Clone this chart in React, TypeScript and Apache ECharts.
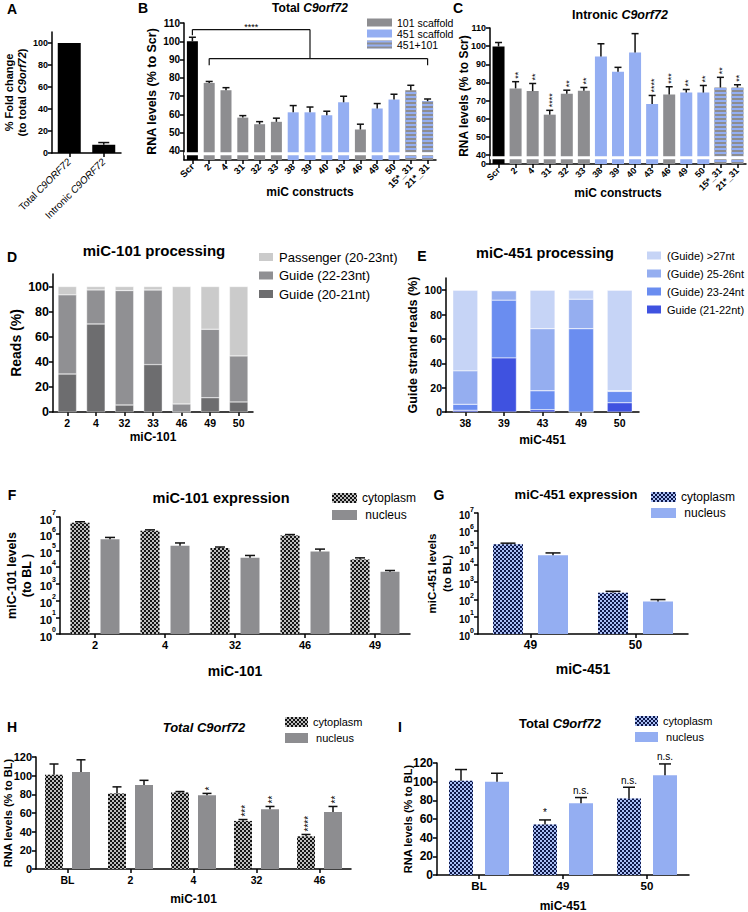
import React, { useEffect, useRef } from 'react';
import * as echarts from 'echarts';

const FONT = '"Liberation Sans", Arial, Helvetica, sans-serif';

// ---------- Panel A ----------
const aCategories = ['Total C9ORF72', 'Intronic C9ORF72'];
const aValues = [100, 7.5];
const aErrTop = [100, 9.5];
const aTicks = [0, 20, 40, 60, 80, 100];

// ---------- Panels B & C ----------
const constructs = ['Scr', '2', '4', '31', '32', '33', '38', '39', '40', '43', '46', '49', '50', '15*_31', '21*_31'];
const scaffold = ['Scr', '101', '101', '101', '101', '101', '451', '451', '451', '451', '101', '451', '451', '451+101', '451+101'];
const totalValues = [100, 77.2, 73.2, 58.2, 54.6, 55.9, 61.1, 61.1, 59.5, 66.6, 51.7, 63.2, 68.1, 73.2, 67.2];
const totalErrTop = [102.2, 78, 74.6, 59.3, 56, 57.9, 64.8, 64, 61.7, 69.9, 54.6, 65.9, 71, 75.9, 68.4];
const intronicValues = [99.8, 76.7, 75.2, 62.2, 73.7, 75.4, 94.3, 85.9, 96.5, 68.1, 73.3, 74.4, 74.4, 77.2, 77.2];
const intronicErrTop = [102, 80.4, 79.4, 64.6, 75.7, 77.2, 101.3, 88.3, 106.9, 72.8, 77.6, 76.1, 78.3, 82.8, 78.7];
const intronicStars = ['', '**', '**', '****', '**', '**', '', '', '', '****', '***', '**', '**', '**', '**'];
const rnaTicks = [35, 40, 50, 60, 70, 80, 90, 100, 110]; // 35 sits below the axis break and reads "0"
const totalBracket = { ref: 0, join: 7, from: 1, to: 14, refTick: 103.3, top: 106.4, lower: 90.5, lowerTick: 86.9, label: '****' };

// ---------- Panel D ----------
const dCategories = ['2', '4', '32', '33', '46', '49', '50'];
const dGuide2021 = [30.3, 70.2, 5.6, 37.8, 0, 11.4, 8];
const dGuide2223 = [63.1, 27.1, 91.2, 59.5, 6.4, 54.6, 36.7];
const dPassenger = [6.6, 2.7, 3.2, 2.7, 93.6, 34, 55.3];
const pctTicks = [0, 20, 40, 60, 80, 100];

// ---------- Panel E ----------
const eCategories = ['38', '39', '43', '49', '50'];
const eGuide2122 = [1.4, 44.4, 1.9, 0, 7.6];
const eGuide2324 = [4.9, 47.4, 15.5, 68.4, 9.3];
const eGuide2526 = [27.5, 7.7, 51, 24.2, 0.5];
const eGuide27 = [66.2, 0.5, 31.6, 7.4, 82.6];

// ---------- Panel F ----------
const fCategories = ['2', '4', '32', '46', '49'];
const fCyto = [4.5e6, 1.5e6, 1.4e5, 7.7e5, 2.9e4];
const fCytoErrTop = [5.2e6, 1.7e6, 1.6e5, 8.9e5, 3.6e4];
const fNuc = [4.7e5, 1.9e5, 3.6e4, 8.6e4, 5.3e3];
const fNucErrTop = [6.0e5, 2.8e5, 5.0e4, 1.2e5, 6.3e3];

// ---------- Panel G ----------
const gCategories = ['49', '50'];
const gCyto = [1.55e5, 240];
const gCytoErrTop = [1.8e5, 295];
const gNuc = [3.6e4, 75];
const gNucErrTop = [4.9e4, 98];

// ---------- Panel H ----------
const hCategories = ['BL', '2', '4', '32', '46'];
const hCyto = [101, 81, 82, 51.5, 35];
const hCytoErrTop = [112.5, 88, 83, 53, 37];
const hNuc = [104, 90, 79, 64, 61];
const hNucErrTop = [117, 95, 81, 67, 67];
const hCytoStars = ['', '', '', '***', '****'];
const hNucStars = ['', '', '*', '**', '**'];

// ---------- Panel I ----------
const iCategories = ['BL', '49', '50'];
const iCyto = [101, 54, 82];
const iCytoErrTop = [113, 59, 94];
const iNuc = [100, 77, 107];
const iNucErrTop = [109, 83, 119];
const iCytoMarks = ['', '*', 'n.s.'];
const iNucMarks = ['', 'n.s.', 'n.s.'];
const pct120Ticks = [0, 20, 40, 60, 80, 100, 120];

// ---------- styles ----------
const BLACK = '#000000';
const GRAY = '#8d8d90';
const BLUE = '#94aef2';
const ERR = '#111111';
const AX = { color: '#000', width: 1.5 };

const checker = (color: string) => ({
  symbol: 'rect', symbolSize: 1, symbolKeepAspect: false, color,
  dashArrayX: [[2, 2], [0, 2, 2, 0]], dashArrayY: [2, 0], rotation: 0,
});
const stripes = {
  symbol: 'rect', symbolSize: 1, symbolKeepAspect: false, color: BLUE,
  dashArrayX: [[4, 0]], dashArrayY: [2, 2], rotation: 0,
};

function nameStyle(size: number, extra: any = {}) {
  return { color: '#000', fontFamily: FONT, fontWeight: 'bold', fontSize: size, ...extra };
}

function catAxis(gi: number, data: string[], labelSize: number, name = '', nameSize = 12, nameGap = 20, labelExtra: any = {}) {
  return {
    type: 'category', gridIndex: gi, data, name,
    nameLocation: 'middle', nameGap, nameMoveOverlap: false,
    nameTextStyle: nameStyle(nameSize),
    axisLine: { show: true, lineStyle: AX },
    axisTick: { show: true, alignWithLabel: true, length: 4, lineStyle: AX },
    axisLabel: { color: '#000', fontFamily: FONT, fontWeight: 'bold', fontSize: labelSize, interval: 0, margin: 5, ...labelExtra },
    splitLine: { show: false },
  };
}

function valAxis(gi: number, min: number, max: number, ticks: number[], labelSize: number, name: string, nameSize: number, nameGap: number, extra: any = {}) {
  const { axisLabel = {}, nameTextStyle = {}, ...rest } = extra;
  return {
    type: 'value', gridIndex: gi, min, max, name,
    nameLocation: 'middle', nameRotate: 90, nameGap, nameMoveOverlap: false,
    nameTextStyle: nameStyle(nameSize, nameTextStyle),
    splitLine: { show: false },
    axisLine: { show: true, lineStyle: AX },
    axisTick: { show: true, length: 4, lineStyle: AX, customValues: ticks },
    axisLabel: { color: '#000', fontFamily: FONT, fontWeight: 'bold', fontSize: labelSize, margin: 4, customValues: ticks, ...axisLabel },
    ...rest,
  };
}

function logAxis(gi: number, labelSize: number, name: string, nameSize: number, nameGap: number) {
  return {
    type: 'log', gridIndex: gi, min: 1, max: 1e7, logBase: 10, splitNumber: 7, name,
    nameLocation: 'middle', nameRotate: 90, nameGap, nameMoveOverlap: false,
    nameTextStyle: nameStyle(nameSize, { lineHeight: 15 }),
    splitLine: { show: false },
    minorTick: { show: false },
    axisLine: { show: true, lineStyle: AX },
    axisTick: { show: true, length: 4, lineStyle: AX },
    axisLabel: {
      margin: 4,
      formatter: (v: number) => `{b|10}{s|${Math.round(Math.log10(v))}}`,
      rich: {
        b: { fontSize: labelSize, fontWeight: 'bold', fontFamily: FONT, color: '#000', lineHeight: labelSize + 5, verticalAlign: 'bottom' },
        s: { fontSize: Math.round(labelSize * 0.68), fontWeight: 'bold', fontFamily: FONT, color: '#000', lineHeight: 7, verticalAlign: 'top' },
      },
    },
  };
}

function seg(x1: number, y1: number, x2: number, y2: number, w = 1.5) {
  return { type: 'line', shape: { x1, y1, x2, y2 }, style: { stroke: ERR, lineWidth: w } };
}

function errorSeries(gi: number, values: number[], tops: number[], offset: number, cap: number, marks?: string[], vertical = false, markSize = 9) {
  return {
    type: 'custom', xAxisIndex: gi, yAxisIndex: gi, silent: true, z: 4,
    data: values.map((v, i) => [i, v, tops[i]]),
    renderItem: (params: any, api: any) => {
      const idx = api.value(0);
      const v = api.value(1);
      const t = api.value(2);
      const pv = api.coord([idx, v]);
      const pt = api.coord([idx, t]);
      const x = pv[0] + offset;
      const children: any[] = [];
      if (t > v) {
        children.push(seg(x, pv[1], x, pt[1]));
        children.push(seg(x - cap / 2, pt[1], x + cap / 2, pt[1]));
      }
      const m = marks ? marks[params.dataIndex] : '';
      if (m) {
        if (vertical) {
          children.push({ type: 'text', x: x + 2, y: pt[1] - 3, rotation: Math.PI / 2,
            style: { text: m, align: 'left', verticalAlign: 'middle', fontSize: markSize, fontFamily: FONT, fill: '#000' } });
        } else {
          children.push({ type: 'text', x, y: pt[1] - 2,
            style: { text: m, align: 'center', verticalAlign: 'bottom', fontSize: markSize, fontFamily: FONT, fill: '#000' } });
        }
      }
      return { type: 'group', children };
    },
  };
}

const scaffoldGroups = [
  { key: 'Scr', name: 'Scr', color: BLACK, decal: undefined as any },
  { key: '101', name: '101 scaffold', color: GRAY, decal: undefined as any },
  { key: '451', name: '451 scaffold', color: BLUE, decal: undefined as any },
  { key: '451+101', name: '451+101', color: GRAY, decal: stripes },
];

const breakArea = {
  silent: true, z: 10,
  itemStyle: { color: '#ffffff' },
  data: [[{ yAxis: 37.6 }, { yAxis: 39.3 }]],
};

function scaffoldSeries(gi: number, values: number[], barWidth: number) {
  return scaffoldGroups.map((g, k) => ({
    type: 'bar', name: g.name, xAxisIndex: gi, yAxisIndex: gi, stack: 'st' + gi, barWidth,
    itemStyle: g.decal ? { color: g.color, decal: g.decal } : { color: g.color },
    data: values.map((v, i) => (scaffold[i] === g.key ? v : '-')),
    ...(k === 0 ? { markArea: breakArea } : {}),
  }));
}

function stackSeries(gi: number, name: string, data: number[], color: string, barWidth: number) {
  return { type: 'bar', name, xAxisIndex: gi, yAxisIndex: gi, stack: 'st' + gi, barWidth, data, itemStyle: { color, borderColor: '#ffffff', borderWidth: 0.4 } };
}

function groupBar(gi: number, name: string, data: number[], color: string, barWidth: number, barGap: string, decal?: any) {
  return { type: 'bar', name, xAxisIndex: gi, yAxisIndex: gi, barWidth, barGap, data, itemStyle: decal ? { color, decal } : { color } };
}

const bracketSeries = {
  type: 'custom', xAxisIndex: 1, yAxisIndex: 1, silent: true, z: 5,
  data: [[totalBracket.ref, totalBracket.top]],
  renderItem: (_p: any, api: any) => {
    const b = totalBracket;
    const c = (i: number, v: number) => api.coord([i, v]);
    const r0 = c(b.ref, b.refTick), r1 = c(b.ref, b.top);
    const j0 = c(b.join, b.top), j1 = c(b.join, b.lower);
    const f0 = c(b.from, b.lowerTick), f1 = c(b.from, b.lower);
    const t0 = c(b.to, b.lowerTick), t1 = c(b.to, b.lower);
    return {
      type: 'group',
      children: [
        seg(r0[0], r0[1], r1[0], r1[1], 1.2),
        seg(r1[0], r1[1], j0[0], j0[1], 1.2),
        seg(j0[0], j0[1], j1[0], j1[1], 1.2),
        seg(f1[0], f1[1], t1[0], t1[1], 1.2),
        seg(f0[0], f0[1], f1[0], f1[1], 1.2),
        seg(t0[0], t0[1], t1[0], t1[1], 1.2),
        { type: 'text', x: (r1[0] + j0[0]) / 2, y: r1[1] + 1.5,
          style: { text: b.label, align: 'center', verticalAlign: 'bottom', fontSize: 9, fontFamily: FONT, fill: '#000' } },
      ],
    };
  },
};

const legendBase = { orient: 'vertical', padding: 0, icon: 'rect', selectedMode: false };
const cellName = (n: string) => (n.startsWith('cyto') ? 'cytoplasm' : ' nucleus');

function rt(size: number) {
  return {
    n: { fontSize: size, fontWeight: 'bold', fontFamily: FONT, fill: '#000' },
    i: { fontSize: size, fontWeight: 'bold', fontStyle: 'italic', fontFamily: FONT, fill: '#000' },
  };
}
function gtext(x: number, y: number, text: string, size: number, rich?: any) {
  return {
    type: 'text', x, y, silent: true,
    style: rich
      ? { text, rich, align: 'center', verticalAlign: 'middle', fill: '#000' }
      : { text, align: 'center', verticalAlign: 'middle', fontSize: size, fontWeight: 'bold', fontFamily: FONT, fill: '#000' },
  };
}

function buildOption() {
  const CYTO_GRAY = '#bdbdbd';
  const CYTO_BLUE = '#a9bef5';
  const checkDark = checker('#141414');
  const checkNavy = checker('#0e1848');
  return {
    animation: false,
    backgroundColor: '#ffffff',
    grid: [
      { left: 52, top: 32, width: 69, height: 121, outerBoundsMode: 'none' },
      { left: 184, top: 23, width: 252, height: 137, outerBoundsMode: 'none' },
      { left: 490, top: 28, width: 256, height: 136, outerBoundsMode: 'none' },
      { left: 53, top: 274, width: 200, height: 138, outerBoundsMode: 'none' },
      { left: 446, top: 278, width: 193, height: 134, outerBoundsMode: 'none' },
      { left: 60, top: 517, width: 350, height: 117, outerBoundsMode: 'none' },
      { left: 478, top: 513, width: 210, height: 121, outerBoundsMode: 'none' },
      { left: 36, top: 757, width: 315, height: 112, outerBoundsMode: 'none' },
      { left: 437, top: 763, width: 252, height: 112, outerBoundsMode: 'none' },
    ],
    xAxis: [
      catAxis(0, aCategories, 10, '', 12, 20, {
        rotate: 45, fontWeight: 'normal', margin: 7,
        formatter: (v: string) => v.replace('C9ORF72', '{i|C9ORF72}'),
        rich: { i: { fontSize: 10, fontStyle: 'italic', fontFamily: FONT, color: '#000' } },
      }),
      catAxis(1, constructs, 9.5, 'miC constructs', 12, 26, { rotate: 45 }),
      catAxis(2, constructs, 9, 'miC constructs', 12, 23, { rotate: 45 }),
      catAxis(3, dCategories, 10.5, 'miC-101', 12, 19),
      catAxis(4, eCategories, 10.5, 'miC-451', 12, 22),
      catAxis(5, fCategories, 11, 'miC-101', 14, 30),
      catAxis(6, gCategories, 12, 'miC-451', 14, 28),
      catAxis(7, hCategories, 10.5, 'miC-101', 12, 24),
      catAxis(8, iCategories, 11.5, 'miC-451', 12, 25),
    ],
    yAxis: [
      valAxis(0, 0, 110, aTicks, 9, '% Fold change\n(to total {i|C9orf72})', 11, 24, {
        nameTextStyle: { lineHeight: 13, rich: { i: { fontSize: 11, fontWeight: 'bold', fontStyle: 'italic', fontFamily: FONT, color: '#000' } } },
      }),
      valAxis(1, 35, 110, rnaTicks, 10, 'RNA levels (% to Scr)', 12.5, 26, {
        axisLabel: { formatter: (v: number) => (v === 35 ? '0' : String(v)) },
      }),
      valAxis(2, 35, 110, rnaTicks, 9, 'RNA levels (% to Scr)', 12, 20, {
        axisLabel: { formatter: (v: number) => (v === 35 ? '0' : String(v)) },
      }),
      valAxis(3, 0, 110, pctTicks, 12.5, 'Reads (%)', 14, 30),
      valAxis(4, 0, 110, pctTicks, 10.5, 'Guide strand reads (%)', 12.5, 27),
      logAxis(5, 11, 'miC-101 levels\n(to BL )', 12.5, 26),
      logAxis(6, 10, 'miC-451 levels\n(to BL)', 11.5, 24),
      valAxis(7, 0, 120, pct120Ticks, 11, 'RNA levels (% to BL)', 11, 23),
      valAxis(8, 0, 120, pct120Ticks, 12, 'RNA levels (% to BL)', 11, 24),
    ],
    legend: [
      { ...legendBase, left: 367, top: 17, itemWidth: 25, itemHeight: 8, itemGap: 0,
        data: ['101 scaffold', '451 scaffold', '451+101'],
        textStyle: { color: '#000', fontFamily: FONT, fontSize: 10.5, lineHeight: 11 } },
      { ...legendBase, left: 257, top: 250, itemWidth: 16, itemHeight: 10, itemGap: 4.5,
        data: ['Passenger (20-23nt)', 'Guide (22-23nt)', 'Guide (20-21nt)'],
        textStyle: { color: '#000', fontFamily: FONT, fontSize: 13, lineHeight: 14 } },
      { ...legendBase, left: 645, top: 249, itemWidth: 16, itemHeight: 10, itemGap: 5,
        data: ['(Guide) >27nt', '(Guide) 25-26nt', '(Guide) 23-24nt', 'Guide (21-22nt)'],
        textStyle: { color: '#000', fontFamily: FONT, fontSize: 11, lineHeight: 13 } },
      { ...legendBase, left: 332, top: 491.5, itemWidth: 25, itemHeight: 10, itemGap: 4,
        data: ['cyto-101', 'nuc-101'], formatter: cellName,
        textStyle: { color: '#000', fontFamily: FONT, fontSize: 12, lineHeight: 13 } },
      { ...legendBase, left: 651, top: 490.5, itemWidth: 25, itemHeight: 10, itemGap: 3,
        data: ['cyto-451', 'nuc-451'], formatter: cellName,
        textStyle: { color: '#000', fontFamily: FONT, fontSize: 12, lineHeight: 13 } },
      { ...legendBase, left: 285, top: 716, itemWidth: 23, itemHeight: 10, itemGap: 4,
        data: ['cyto-101', 'nuc-101'], formatter: cellName,
        textStyle: { color: '#000', fontFamily: FONT, fontSize: 11, lineHeight: 12 } },
      { ...legendBase, left: 635, top: 715, itemWidth: 23, itemHeight: 10, itemGap: 4,
        data: ['cyto-451', 'nuc-451'], formatter: cellName,
        textStyle: { color: '#000', fontFamily: FONT, fontSize: 11, lineHeight: 12 } },
    ],
    graphic: {
      elements: [
        gtext(12, 9, 'A', 14), gtext(143, 8, 'B', 14), gtext(458, 8, 'C', 14),
        gtext(12, 257, 'D', 14), gtext(422, 256, 'E', 14), gtext(12, 495, 'F', 14),
        gtext(439, 495, 'G', 14), gtext(12, 727, 'H', 14), gtext(400, 727, 'I', 14),
        gtext(310, 8, '{n|Total }{i|C9orf72}', 12, rt(12)),
        gtext(620, 15, '{n|Intronic }{i|C9orf72}', 12.5, rt(12.5)),
        gtext(154, 250, 'miC-101 processing', 15),
        gtext(545, 253, 'miC-451 processing', 14.5),
        gtext(221, 498, 'miC-101 expression', 14.5),
        gtext(576, 494, 'miC-451 expression', 13),
        gtext(204, 727, '{i|Total C9orf72}', 13, rt(13)),
        gtext(560, 723, '{n|Total }{i|C9orf72}', 13, rt(13)),
      ],
    },
    series: [
      // A
      { type: 'bar', name: 'A', xAxisIndex: 0, yAxisIndex: 0, barWidth: 23, data: aValues, itemStyle: { color: BLACK } },
      errorSeries(0, aValues, aErrTop, 0, 11),
      // B
      ...scaffoldSeries(1, totalValues, 11),
      errorSeries(1, totalValues, totalErrTop, 0, 7),
      bracketSeries,
      // C
      ...scaffoldSeries(2, intronicValues, 12),
      errorSeries(2, intronicValues, intronicErrTop, 0, 7, intronicStars, true, 9),
      // D
      stackSeries(3, 'Guide (20-21nt)', dGuide2021, '#6d6d6f', 18.5),
      stackSeries(3, 'Guide (22-23nt)', dGuide2223, '#909093', 18.5),
      stackSeries(3, 'Passenger (20-23nt)', dPassenger, '#cbcbcb', 18.5),
      // E
      stackSeries(4, 'Guide (21-22nt)', eGuide2122, '#3f52e0', 25),
      stackSeries(4, '(Guide) 23-24nt', eGuide2324, '#6a8df0', 25),
      stackSeries(4, '(Guide) 25-26nt', eGuide2526, '#95aef0', 25),
      stackSeries(4, '(Guide) >27nt', eGuide27, '#c6d4f6', 25),
      // F
      groupBar(5, 'cyto-101', fCyto, CYTO_GRAY, 19, '58%', checkDark),
      groupBar(5, 'nuc-101', fNuc, GRAY, 19, '58%'),
      errorSeries(5, fCyto, fCytoErrTop, -15, 10),
      errorSeries(5, fNuc, fNucErrTop, 15, 10),
      // G
      groupBar(6, 'cyto-451', gCyto, CYTO_BLUE, 30, '50%', checkNavy),
      groupBar(6, 'nuc-451', gNuc, BLUE, 30, '50%'),
      errorSeries(6, gCyto, gCytoErrTop, -22.5, 15),
      errorSeries(6, gNuc, gNucErrTop, 22.5, 15),
      // H
      groupBar(7, 'cyto-101', hCyto, CYTO_GRAY, 18, '50%', checkDark),
      groupBar(7, 'nuc-101', hNuc, GRAY, 18, '50%'),
      errorSeries(7, hCyto, hCytoErrTop, -13.5, 9, hCytoStars, true, 10),
      errorSeries(7, hNuc, hNucErrTop, 13.5, 9, hNucStars, true, 10),
      // I
      groupBar(8, 'cyto-451', iCyto, CYTO_BLUE, 24, '50%', checkNavy),
      groupBar(8, 'nuc-451', iNuc, BLUE, 24, '50%'),
      errorSeries(8, iCyto, iCytoErrTop, -18, 12, iCytoMarks, false, 10),
      errorSeries(8, iNuc, iNucErrTop, 18, 12, iNucMarks, false, 10),
    ],
  };
}

export default function App() {
  const ref = useRef<HTMLDivElement>(null);
  useEffect(() => {
    const chart = echarts.init(ref.current as HTMLDivElement, null, { renderer: 'svg' });
    chart.setOption(buildOption() as any);
    return () => chart.dispose();
  }, []);
  return (
    <div
      ref={ref}
      style={{ position: 'absolute', left: 0, top: 0, width: 748, height: 912, background: '#ffffff' }}
    />
  );
}
